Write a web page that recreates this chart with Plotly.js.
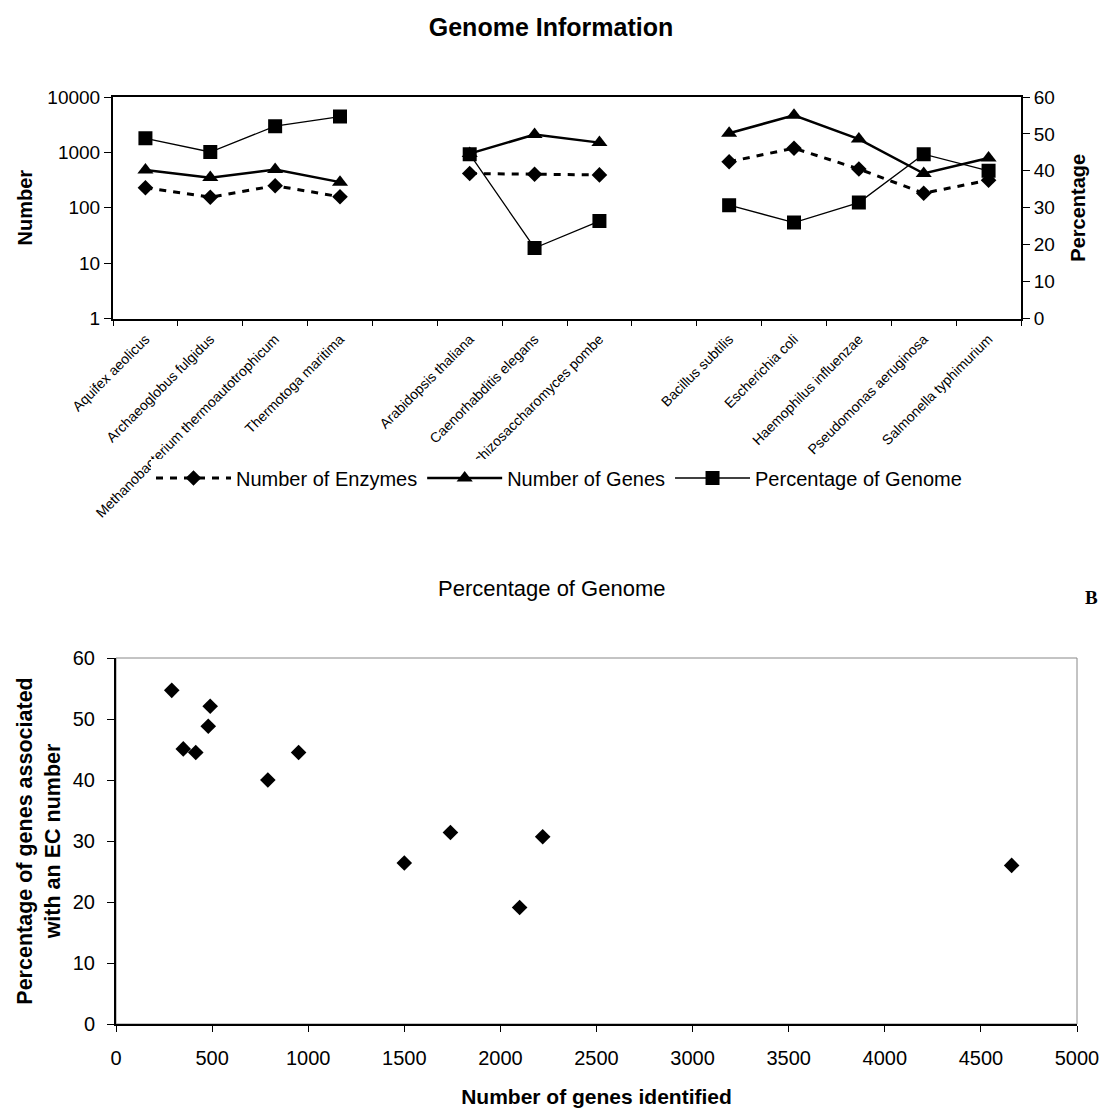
<!DOCTYPE html>
<html>
<head>
<meta charset="utf-8">
<script src="https://cdn.plot.ly/plotly-3.0.1.min.js"></script>
<style>html,body{margin:0;padding:0;background:#fff;}#chart{width:1103px;height:1108px;}</style>
</head>
<body>
<div id="chart"></div>
<script>
// ---- data ----
const organisms = ['Aquifex aeolicus','Archaeoglobus fulgidus','Methanobacterium thermoautotrophicum','Thermotoga maritima',
  'Arabidopsis thaliana','Caenorhabditis elegans','Schizosaccharomyces pombe',
  'Bacillus subtilis','Escherichia coli','Haemophilus influenzae','Pseudomonas aeruginosa','Salmonella typhimurium'];
const groupSizes = [4, 3, 5];
const numEnzymes = [230, 155, 250, 158, 415, 402, 392, 678, 1190, 500, 183, 315];
const numGenes = [480, 350, 490, 290, 950, 2100, 1500, 2220, 4660, 1740, 415, 790];
const pctGenome = [48.8, 45.1, 52.1, 54.7, 44.5, 19.1, 26.4, 30.7, 26.0, 31.4, 44.5, 40.0];
const logTickVals = [1, 10, 100, 1000, 10000];
const logTickText = ['1', '10', '100', '1000', '10000'];

// build category axis with empty slots between groups
function withGaps(values) {
  const out = []; let i = 0;
  groupSizes.forEach((n, g) => {
    for (let k = 0; k < n; k++) { out.push(values[i++]); }
    if (g < groupSizes.length - 1) out.push(null);
  });
  return out;
}
const gapNames = [' ', '  '];
const cats = (function () {
  const out = []; let i = 0;
  groupSizes.forEach((n, g) => {
    for (let k = 0; k < n; k++) out.push(organisms[i++]);
    if (g < groupSizes.length - 1) out.push(gapNames[g]);
  });
  return out;
})();

const W = 1103, H = 1108;
const px = v => v / W, py = v => 1 - v / H;
const FONT = 'Liberation Sans, Arial, sans-serif';

const traces = [
  { type: 'scatter', mode: 'lines+markers', name: 'Number of Enzymes', x: cats, y: withGaps(numEnzymes),
    xaxis: 'x', yaxis: 'y', connectgaps: false,
    line: { color: '#000', width: 3, dash: '7px,7px' },
    marker: { symbol: 'diamond', size: 12, color: '#000' } },
  { type: 'scatter', mode: 'lines+markers', name: 'Number of Genes', x: cats, y: withGaps(numGenes),
    xaxis: 'x', yaxis: 'y', connectgaps: false,
    line: { color: '#000', width: 2.5 },
    marker: { symbol: 'triangle-up', size: 14, color: '#000' } },
  { type: 'scatter', mode: 'lines+markers', name: 'Percentage of Genome', x: cats, y: withGaps(pctGenome),
    xaxis: 'x', yaxis: 'y2', connectgaps: false,
    line: { color: '#000', width: 1.3 },
    marker: { symbol: 'square', size: 14, color: '#000' } },
  { type: 'scatter', mode: 'markers', name: 'Percentage of Genome', x: numGenes, y: pctGenome,
    xaxis: 'x2', yaxis: 'y3', showlegend: false,
    marker: { symbol: 'diamond', size: 12, color: '#000' } }
];

const layout = {
  width: W, height: H, autosize: false,
  margin: { l: 0, r: 0, t: 0, b: 0 },
  paper_bgcolor: '#fff', plot_bgcolor: '#fff',
  font: { family: FONT, color: '#000' },
  title: { text: '<b>Genome Information</b>', x: px(551), xanchor: 'center', y: py(27), yanchor: 'middle',
    font: { size: 25, family: FONT, color: '#000' } },
  showlegend: true,
  legend: { orientation: 'h', x: px(559), xanchor: 'center', y: py(478), yanchor: 'middle',
    bgcolor: '#fff', font: { size: 20, family: FONT }, itemwidth: 75, traceorder: 'normal' },
  xaxis: { domain: [px(113), px(1021)], anchor: 'y', type: 'category', categoryorder: 'array', categoryarray: cats,
    range: [-0.5, cats.length - 0.5], tickson: 'boundaries', ticks: 'outside', ticklen: 5, tickcolor: '#000',
    tickangle: -45, tickfont: { size: 14, family: FONT }, ticklabelstandoff: 5,
    showline: true, linecolor: '#000', linewidth: 2,
    mirror: true, showgrid: false, zeroline: false, fixedrange: true },
  yaxis: { domain: [py(318.5), py(97)], anchor: 'x', type: 'log', range: [0, 4], tickvals: logTickVals, ticktext: logTickText,
    ticks: 'outside', ticklen: 7, tickcolor: '#000', tickfont: { size: 19, family: FONT },
    showline: true, linecolor: '#000', linewidth: 2, showgrid: false, zeroline: false,
    title: { text: '<b>Number</b>', font: { size: 20, family: FONT }, standoff: 9 } },
  yaxis2: { overlaying: 'y', side: 'right', anchor: 'x', range: [0, 60], dtick: 10, tick0: 0,
    ticks: 'outside', ticklen: 7, tickcolor: '#000', tickfont: { size: 19, family: FONT },
    showline: true, linecolor: '#000', linewidth: 2, showgrid: false, zeroline: false,
    title: { text: '<b>Percentage</b>', font: { size: 20, family: FONT }, standoff: 17 } },
  xaxis2: { domain: [px(116), px(1077)], anchor: 'y3', range: [0, 5000], dtick: 500, tick0: 0,
    ticks: 'outside', ticklen: 6, tickcolor: '#000', tickfont: { size: 20, family: FONT }, ticklabelstandoff: 9,
    showline: true, linecolor: '#000', linewidth: 2, showgrid: false, zeroline: false,
    title: { text: '<b>Number of genes identified</b>', font: { size: 21, family: FONT }, standoff: 25 } },
  yaxis3: { domain: [py(1024), py(658)], anchor: 'x2', range: [0, 60], dtick: 10, tick0: 0,
    ticks: 'outside', ticklen: 7, tickcolor: '#000', tickfont: { size: 20, family: FONT }, ticklabelstandoff: 8,
    showline: true, linecolor: '#000', linewidth: 2, showgrid: false, zeroline: false,
    title: { text: '<b>Percentage of genes associated<br>with an EC number</b>', font: { size: 21.5, family: FONT }, standoff: 6 } },
  shapes: [
    { type: 'rect', xref: 'x2 domain', yref: 'y3 domain', x0: 0, x1: 1, y0: 0, y1: 1,
      line: { color: '#888', width: 1 }, layer: 'below' }
  ],
  annotations: [
    { text: 'Percentage of Genome', xref: 'paper', yref: 'paper', x: px(551), y: py(588), xanchor: 'center', yanchor: 'middle',
      showarrow: false, font: { size: 22, family: FONT, color: '#000' } },
    { text: '<b>B</b>', xref: 'paper', yref: 'paper', x: px(1091), y: py(597), xanchor: 'center', yanchor: 'middle',
      showarrow: false, font: { size: 19, family: 'Liberation Serif, Times New Roman, serif', color: '#000' } }
  ]
};

Plotly.newPlot('chart', traces, layout, { staticPlot: true, displayModeBar: false });
</script>
</body>
</html>
